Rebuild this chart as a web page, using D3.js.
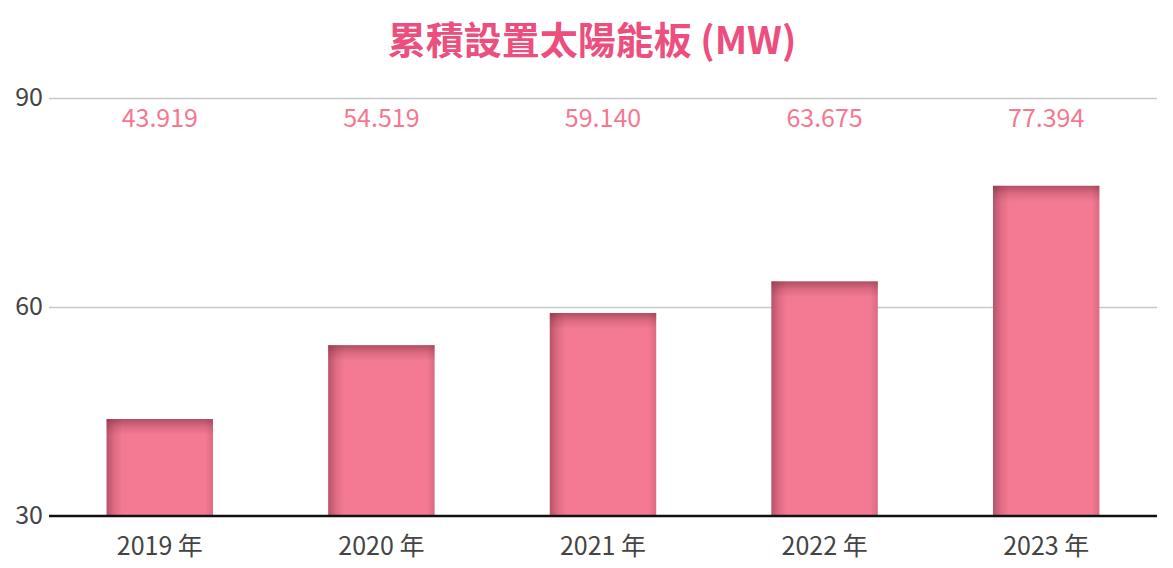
<!DOCTYPE html>
<html><head><meta charset="utf-8">
<script src="https://cdn.jsdelivr.net/npm/d3@7/dist/d3.min.js"></script>
<style>
html,body{margin:0;padding:0;background:#fff;}
svg{display:block;font-family:"Noto Sans CJK TC","Noto Sans",sans-serif;}
</style></head>
<body><svg id="chart" width="1173" height="568"></svg>
<script>
const categories = ["2019 年","2020 年","2021 年","2022 年","2023 年"];
const values = [43.919, 54.519, 59.140, 63.675, 77.394];
const valueLabels = ["43.919","54.519","59.140","63.675","77.394"];
const yTicks = [30, 60, 90];
const title = "累積設置太陽能板 (MW)";

const svg = d3.select("#chart");
const pLeft = 49, pRight = 1157, pTop = 98, pBottom = 516;
const x = d3.scaleBand().domain(categories).range([pLeft, pRight]).paddingInner(0.52).paddingOuter(0.26);
const y = d3.scaleLinear().domain([30, 90]).range([pBottom, pTop]);
const FONT = "'Noto Sans CJK TC','Noto Sans',sans-serif";

const defs = svg.append("defs");
const gTop = defs.append("linearGradient").attr("id","gTop").attr("x1",0).attr("y1",0).attr("x2",0).attr("y2",1);
gTop.append("stop").attr("offset",0).attr("stop-color","#7a2c3e").attr("stop-opacity",0.55);
gTop.append("stop").attr("offset",0.5).attr("stop-color","#7a2c3e").attr("stop-opacity",0.2);
gTop.append("stop").attr("offset",1).attr("stop-color","#7a2c3e").attr("stop-opacity",0);
const gLeft = defs.append("linearGradient").attr("id","gLeft").attr("x1",0).attr("y1",0).attr("x2",1).attr("y2",0);
gLeft.append("stop").attr("offset",0).attr("stop-color","#7a2c3e").attr("stop-opacity",0.5);
gLeft.append("stop").attr("offset",0.5).attr("stop-color","#7a2c3e").attr("stop-opacity",0.18);
gLeft.append("stop").attr("offset",1).attr("stop-color","#7a2c3e").attr("stop-opacity",0);
const gRight = defs.append("linearGradient").attr("id","gRight").attr("x1",1).attr("y1",0).attr("x2",0).attr("y2",0);
gRight.append("stop").attr("offset",0).attr("stop-color","#7a2c3e").attr("stop-opacity",0.2);
gRight.append("stop").attr("offset",1).attr("stop-color","#7a2c3e").attr("stop-opacity",0);

// title
svg.append("text").attr("x", 592).attr("y", 54).attr("text-anchor","middle")
  .attr("font-size", 38).attr("font-weight", 700).attr("fill", "#ec4e7e").attr("font-family",FONT).text(title);

// grid
const yAxis = d3.axisLeft(y).tickValues(yTicks).tickSize(-(pRight-pLeft)).tickPadding(6);
const ga = svg.append("g").attr("transform",`translate(${pLeft},0)`).call(yAxis);
ga.select(".domain").remove();
ga.selectAll(".tick line").attr("stroke","#c8c8c8").attr("stroke-width",1.5);
ga.selectAll(".tick text").attr("font-size",25).attr("fill","#444").attr("font-family",FONT).attr("dy","0.3em").attr("x",-6);
ga.selectAll(".tick").filter(d=>d===30).select("line").remove();

const data = categories.map((c,i)=>({c, v: values[i], l: valueLabels[i]}));
const bars = svg.append("g").selectAll("g").data(data).join("g");
bars.append("rect").attr("x",d=>x(d.c)).attr("y",d=>y(d.v)).attr("width",x.bandwidth()).attr("height",d=>pBottom-y(d.v)).attr("fill","#f47a93");
bars.append("rect").attr("x",d=>x(d.c)).attr("y",d=>y(d.v)).attr("width",x.bandwidth()).attr("height",16).attr("fill","url(#gTop)");
bars.append("rect").attr("x",d=>x(d.c)).attr("y",d=>y(d.v)).attr("width",16).attr("height",d=>pBottom-y(d.v)).attr("fill","url(#gLeft)");
bars.append("rect").attr("x",d=>x(d.c)+x.bandwidth()-8).attr("y",d=>y(d.v)).attr("width",8).attr("height",d=>pBottom-y(d.v)).attr("fill","url(#gRight)");

// value labels
svg.append("g").selectAll("text").data(data).join("text")
  .attr("x",d=>x(d.c)+x.bandwidth()/2).attr("y",127).attr("text-anchor","middle")
  .attr("font-size",25).attr("fill","#f4788f").attr("font-family",FONT)
  .text(d=>d.l);

// x axis
const xAxis = d3.axisBottom(x).tickSize(0);
const gx = svg.append("g").attr("transform",`translate(0,${pBottom})`).call(xAxis);
gx.select(".domain").remove();
gx.selectAll(".tick text").attr("y",39).attr("dy",0).attr("font-size",25).attr("fill","#444").attr("font-family",FONT);
svg.append("line").attr("x1",pLeft).attr("x2",pRight).attr("y1",pBottom).attr("y2",pBottom).attr("stroke","#111").attr("stroke-width",2.5);
</script></body></html>
